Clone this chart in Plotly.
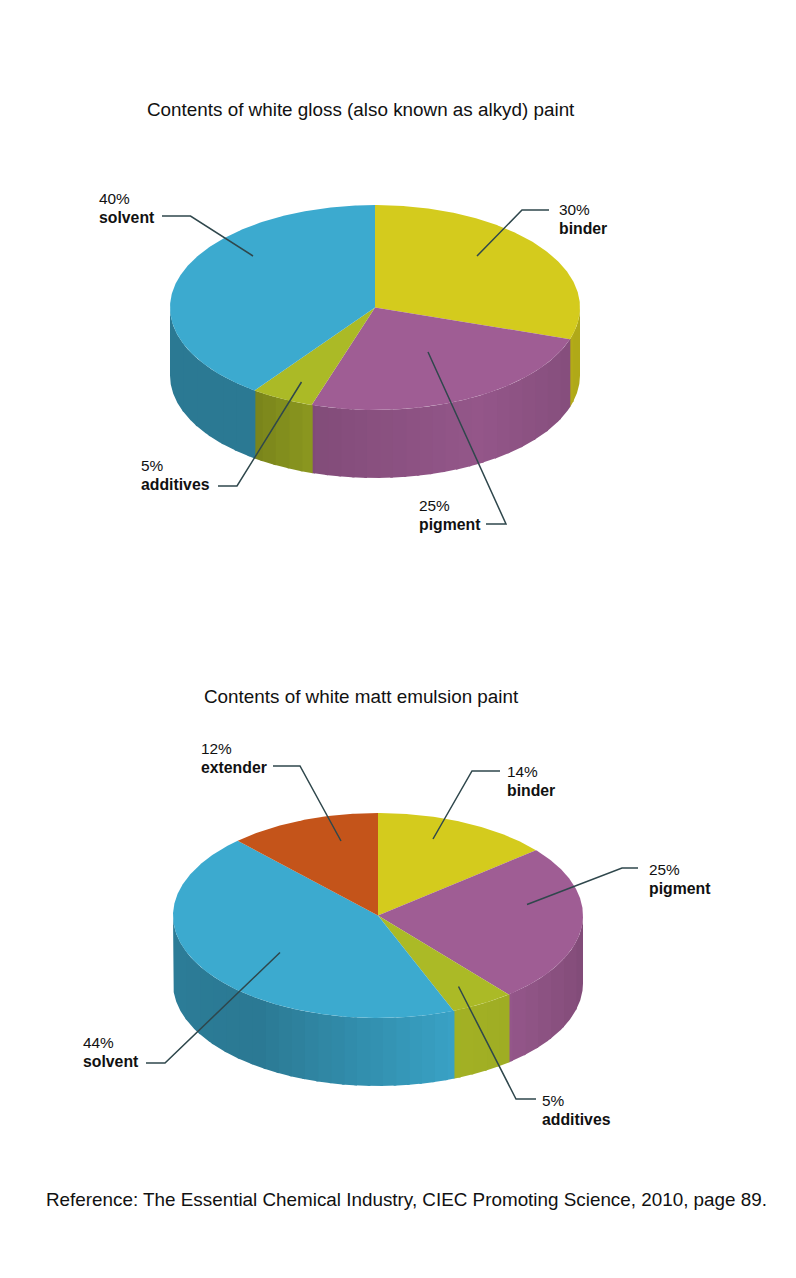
import math
import plotly.graph_objects as go

# slices run clockwise from 12 o'clock
gloss_labels = ['binder', 'pigment', 'additives', 'solvent']
gloss_values = [30, 25, 5, 40]
matt_labels = ['binder', 'pigment', 'additives', 'solvent', 'extender']
matt_values = [14, 25, 5, 44, 12]

gloss_title = 'Contents of white gloss (also known as alkyd) paint'
matt_title = 'Contents of white matt emulsion paint'
reference = 'Reference: The Essential Chemical Industry, CIEC Promoting Science, 2010, page 89.'

COLORS = {
    'binder': (212, 203, 29),
    'pigment': (159, 93, 148),
    'additives': (171, 186, 38),
    'solvent': (60, 170, 207),
    'extender': (196, 84, 26),
}
LEADER = '#2f474c'
FONT = 'Liberation Sans, Arial, sans-serif'

RX, RY, DEPTH = 205, 102.5, 68
BAND = 13
PAD = 2  # annotations sit this far inside their anchor

# side shading across the width of each pie: (fraction of width, brightness)
gloss_shade = [(0, .71), (.2, .71), (.35, .82), (.75, .93), (1, .83)]
matt_shade = [(0, .73), (.2, .71), (.68, .95), (.82, .93), (1, .82)]

# leader lines and label positions, per slice
gloss_leaders = {
    'solvent': [(162, 216), (190.5, 216), (253, 256)],
    'binder': [(549, 210), (522, 210), (477, 256)],
    'pigment': [(486, 524), (506, 524), (428, 352)],
    'additives': [(218, 486), (237, 486), (301.5, 382)],
}
gloss_text_pos = {
    'solvent': (99, 208), 'binder': (559, 219),
    'pigment': (419, 515), 'additives': (141, 475),
}
matt_leaders = {
    'extender': [(273, 766), (300, 766), (341, 841)],
    'binder': [(500, 771), (472, 771), (433, 839)],
    'pigment': [(638, 868), (622, 868), (527, 904.5)],
    'additives': [(536, 1099), (516, 1099), (458.5, 986.5)],
    'solvent': [(146, 1063), (165, 1063), (280, 952.5)],
}
matt_text_pos = {
    'extender': (201, 758), 'binder': (507, 781),
    'pigment': (649, 879), 'additives': (542, 1110), 'solvent': (83, 1052),
}


def ellipse_point(cx, cy, deg):
    a = math.radians(deg)
    return cx + RX * math.sin(a), cy - RY * math.cos(a)


def shade(stops, frac):
    for (f0, v0), (f1, v1) in zip(stops, stops[1:]):
        if frac <= f1:
            return v0 + (v1 - v0) * (frac - f0) / (f1 - f0)
    return stops[-1][1]


def add_polygon(fig, xs, ys, color, edge=0.0):
    fig.add_trace(go.Scatter(
        x=xs, y=ys, mode='lines', fill='toself', fillcolor=color,
        line=dict(color=color, width=edge), hoverinfo='skip', showlegend=False,
    ))


def add_side(fig, cx, cy, a0, a1, base, stops):
    # only the front half of the rim can be seen
    a0, a1 = max(a0 - 0.3, 90), min(a1, 270)
    if a1 <= a0:
        return
    left = cx - RX
    steps = max(2, int((a1 - a0) * 4))
    bands = {}
    for i in range(steps + 1):
        deg = a0 + (a1 - a0) * i / steps
        px, py = ellipse_point(cx, cy, deg)
        bands.setdefault(int((px - left) // BAND), []).append((px, py))
    keys = sorted(bands, reverse=True)
    for n, key in enumerate(keys):
        pts = list(bands[key])
        # painted right to left: each band laps over the one before so no seam shows
        if n > 0:
            pts = bands[keys[n - 1]][-3:] + pts
        if n + 1 < len(keys):
            pts.append(bands[keys[n + 1]][0])
        frac = (key + 0.5) * BAND / (2 * RX)
        k = shade(stops, frac)
        color = 'rgb(%d,%d,%d)' % tuple(round(c * k) for c in base)
        xs = [p[0] for p in pts] + [p[0] for p in reversed(pts)]
        ys = [p[1] for p in pts] + [p[1] + DEPTH for p in reversed(pts)]
        add_polygon(fig, xs + xs[:1], ys + ys[:1], color)


def add_text(fig, x, y, text, size):
    fig.add_annotation(
        x=x - PAD, y=y, text=text, showarrow=False,
        xanchor='left', yanchor='middle', align='left',
        font=dict(family=FONT, size=size, color='#111111'),
    )


def add_pie(fig, labels, values, cx, cy, stops, leaders, text_pos):
    total = sum(values)
    spans = []
    start = 0.0
    for name, v in zip(labels, values):
        spans.append((name, v, start, start + 360.0 * v / total))
        start += 360.0 * v / total

    for name, v, a0, a1 in spans:
        add_side(fig, cx, cy, a0, a1, COLORS[name], stops)

    for name, v, a0, a1 in spans:
        n = max(2, int(a1 - a0) * 2)
        pts = [ellipse_point(cx, cy, a0 + (a1 - a0) * i / n) for i in range(n + 1)]
        xs = [cx] + [p[0] for p in pts] + [cx]
        ys = [cy] + [p[1] for p in pts] + [cy]
        add_polygon(fig, xs, ys, 'rgb(%d,%d,%d)' % COLORS[name])

    for name, v, a0, a1 in spans:
        path = leaders[name]
        fig.add_trace(go.Scatter(
            x=[p[0] for p in path], y=[p[1] for p in path], mode='lines',
            line=dict(color=LEADER, width=1.5), hoverinfo='skip', showlegend=False,
        ))
        tx, ty = text_pos[name]
        add_text(fig, tx, ty - 9.5, f'{v}%', 15.4)
        add_text(fig, tx, ty + 9.5, f'<b>{name}</b>', 15.8)


fig = go.Figure()
add_pie(fig, gloss_labels, gloss_values, 375, 307.5, gloss_shade, gloss_leaders, gloss_text_pos)
add_pie(fig, matt_labels, matt_values, 378, 915.5, matt_shade, matt_leaders, matt_text_pos)

for text, x, y in [(gloss_title, 147, 109.5), (matt_title, 204, 696.5), (reference, 46, 1199.5)]:
    add_text(fig, x, y, text, 18.85)

# the page body keeps its 8px margin, so the axes start at 8 to stay in window pixels
fig.update_layout(
    width=780, height=1262, margin=dict(l=0, r=0, t=0, b=0),
    paper_bgcolor='white', plot_bgcolor='white', showlegend=False,
    xaxis=dict(range=[8, 788], visible=False),
    yaxis=dict(range=[1270, 8], visible=False),
)

fig.write_html("out.html")
